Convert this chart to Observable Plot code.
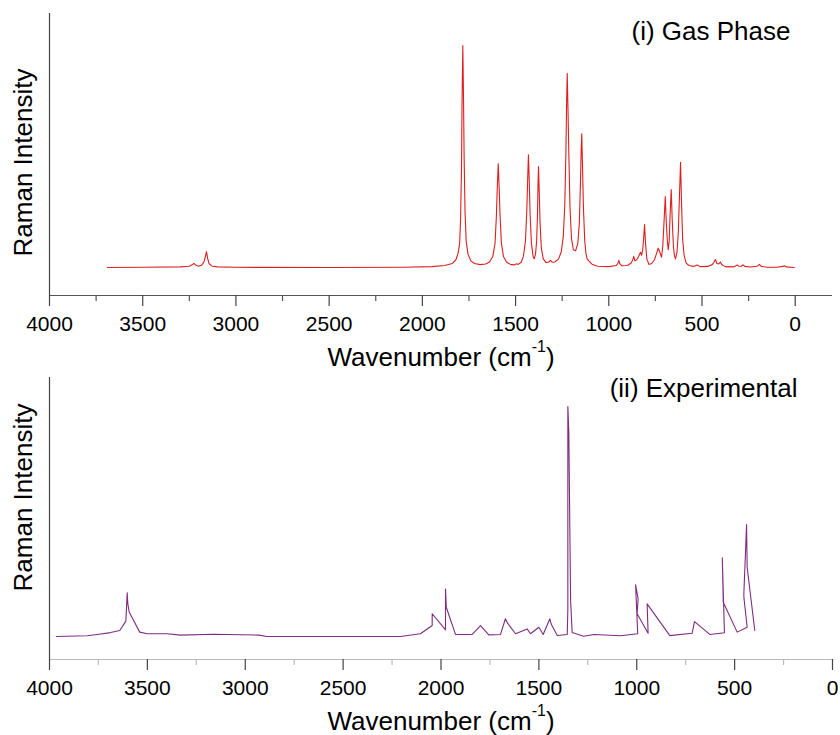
<!DOCTYPE html>
<html>
<head>
<meta charset="utf-8">
<script src="https://cdn.jsdelivr.net/npm/d3@7"></script>
<script src="https://cdn.jsdelivr.net/npm/@observablehq/plot@0.6"></script>
<style>
  body { margin: 0; background: #fff; }
  #wrap { position: relative; width: 840px; height: 735px; overflow: hidden; }
  #top, #bot { position: absolute; left: 0; }
  #top { top: 0; }
  #bot { top: 372px; }
</style>
</head>
<body>
<div id="wrap"><div id="top"></div><div id="bot"></div></div>
<script>
// ---- Data ----
const gasWavenumber = [3690,3500,3300,3250,3235,3226,3216,3200,3185,3172,3164,3158,3152,3144,3130,3100,3000,2500,2100,1950,1880,1840,1820,1808,1800,1795,1790,1787,1783,1779,1776,1771,1765,1755,1740,1720,1690,1660,1640,1622,1610,1603,1598,1593,1588,1583,1576,1565,1548,1525,1505,1495,1486,1470,1458,1447,1440,1435,1431,1427,1422,1415,1406,1400,1393,1387,1382,1380,1377,1373,1369,1362,1352,1338,1322,1313,1304,1290,1270,1255,1244,1236,1230,1226,1223,1219,1214,1208,1200,1190,1178,1166,1158,1152,1148,1145,1141,1136,1129,1122,1116,1106,1090,1060,1000,960,952,946,940,930,900,880,872,866,860,850,840,830,824,818,813,808,803,796,785,770,755,745,735,727,717,710,704,697,692,686,681,676,671,665,660,653,647,642,634,627,621,615,610,604,596,585,570,545,526,510,470,445,436,428,420,410,401,393,375,330,318,311,302,290,279,270,240,205,192,182,150,100,65,58,50,5];
const gasIntensity = [0,0.1,0.3,0.6,1.2,1.9,1.1,0.6,1.0,2.4,4.8,7.2,4.2,1.8,0.7,0.3,0.1,0,0.1,0.4,0.9,1.8,3.5,6.5,11,22,45,75,100,75,50,25,12,6,3,1.8,1.3,1.6,2.5,5,11,23,36,46.7,36,23,11,5,2.4,1.3,1.2,1.7,1.4,2.4,5,12,25,40,50.8,40,24,11,5,3.9,6,12,25,36,45.5,34,21,9,4,2.3,2.4,3.2,2.4,2.5,3.8,7,14,28,52,75,87.5,72,50,27,13,8,7.5,11,20,38,53,60.2,46,27,12,6,3.9,2.9,1.5,0.6,0.4,0.9,1.8,3.2,1.6,0.8,0.9,2,3.4,5,3,3.5,5,6.9,5.5,8,13,19.4,11,4,1.4,1.8,3.5,6,8.7,7,4.6,10,20,32,21,12,8,12,24,35.1,22,9,5,3.9,7,16,32,47.4,30,13,5.5,2,0.9,0.5,1.1,0.4,0.5,1.3,2.4,3.6,1.8,1.6,2.4,1.2,0.4,0.3,0.8,1.2,0.6,0.6,1.2,0.5,0.2,0.6,1.4,0.5,0.1,0.1,0.5,0.8,0.3,0];

const expWavenumber = [3964,3807,3756,3688,3641,3610,3603,3600,3593,3539,3501,3399,3331,3161,2931,2888,2207,2105,2045,2045,1977,1977,1973,1926,1841,1798,1756,1696,1671,1659,1619,1560,1543,1500,1478,1444,1436,1406,1355,1352,1352,1347,1338,1330,1271,1219,1083,995,1006,993,998,942,947,831,717,705,627,552,563,558,487,436,452,453,439,436,397];
const expIntensity = [0,0.3,0.9,1.7,2.6,6.7,19.0,14.3,10.6,1.9,1.2,1.2,0.6,1.0,0.6,0,0,1.2,4.8,9.9,2.9,20.6,12.7,0.9,0.9,4.7,0.7,0.9,7.7,5.7,1.2,3.3,1.2,4.0,0.9,7.7,5.2,0.4,0.9,12.0,100,88.8,15.7,1.7,0.1,0.9,0.3,1.2,22.5,16.5,9.9,1.4,14.2,0.4,1.4,6.5,0.9,1.6,34.2,14.9,1.9,4.0,16.5,18.3,48.7,30.1,2.6];

const majorTicks = [4000,3500,3000,2500,2000,1500,1000,500,0];
const minorTicks = [3750,3250,2750,2250,1750,1250,750,250];
const panelTitles = ["(i) Gas Phase", "(ii) Experimental"];
const yLabel = "Raman Intensity";
const xLabel = "Wavenumber (cm-1)";

const gasData = gasWavenumber.map((w, k) => ({w, v: gasIntensity[k]}));
const expData = expWavenumber.map((w, k) => ({w, v: expIntensity[k]}));

const FONT = "'Liberation Sans', Arial, Helvetica, sans-serif";

function panel({data, color, xDomain, yDomain, height, marginTop, marginBottom, title, titleDx, titleDy, yLabelDy, xLabelDy, baseColor, minorColor}) {
  return Plot.plot({
    width: 840,
    height,
    marginLeft: 49,
    marginRight: 8,
    marginTop,
    marginBottom,
    style: {fontFamily: FONT, background: "transparent", color: "#000", overflow: "visible"},
    x: {domain: xDomain, label: null},
    y: {domain: yDomain, axis: null, label: null},
    marks: [
      Plot.ruleY([yDomain[0]], {stroke: baseColor, strokeWidth: 1.2}),
      Plot.ruleX([4000], {y1: yDomain[0], y2: yDomain[1], stroke: "#444", strokeWidth: 1.2}),
      Plot.axisX({ticks: minorTicks, tickSize: 6, tickFormat: () => "", label: null, stroke: minorColor, strokeWidth: 1.2}),
      Plot.axisX({ticks: majorTicks, tickSize: 11, tickPadding: 10, fontSize: 21, label: null, stroke: "#444", strokeWidth: 1.2, fill: "#000", tickFormat: d => String(d), fontFamily: FONT}),
      Plot.line(data, {x: "w", y: "v", stroke: color, strokeWidth: 1.1, curve: "linear"}),
      Plot.text([title], {frameAnchor: "top-right", textAnchor: "end", lineAnchor: "middle", dx: titleDx, dy: titleDy, fontSize: 26, fill: "#000", fontFamily: FONT}),
      Plot.text([yLabel], {frameAnchor: "left", rotate: -90, lineAnchor: "middle", textAnchor: "middle", dx: -26, dy: yLabelDy, fontSize: 26, fill: "#000", fontFamily: FONT}),
      Plot.text([xLabel], {frameAnchor: "bottom", lineAnchor: "middle", textAnchor: "middle", dy: xLabelDy, fontSize: 26, fill: "#000", fontFamily: FONT})
    ]
  });
}

const topPlot = panel({
  data: gasData, color: "#dc1f1f",
  xDomain: [4000, -200], yDomain: [-12.6, 114.4],
  height: 372, marginTop: 13, marginBottom: 77,
  title: panelTitles[0], titleDx: -42, titleDy: 18, yLabelDy: 8, xLabelDy: 62,
  baseColor: "#555", minorColor: "#555"
});
const botPlot = panel({
  data: expData, color: "#7e2c80",
  xDomain: [4000, 0], yDomain: [-10, 112.6],
  height: 363, marginTop: 5, marginBottom: 76,
  title: panelTitles[1], titleDx: -35, titleDy: 10.7, yLabelDy: -21, xLabelDy: 62,
  baseColor: "#bbb", minorColor: "#bbb"
});

function superscript(svg) {
  d3.select(svg).selectAll("text").filter(function () { return this.textContent === xLabel; }).each(function () {
    const t = d3.select(this);
    t.text(null);
    t.append("tspan").text("Wavenumber (cm");
    t.append("tspan").attr("dy", "-14").attr("font-size", "16").text("-1");
    t.append("tspan").attr("dy", "14").text(")");
  });
}
superscript(topPlot);
superscript(botPlot);

document.getElementById("top").appendChild(topPlot);
document.getElementById("bot").appendChild(botPlot);
</script>
</body>
</html>
